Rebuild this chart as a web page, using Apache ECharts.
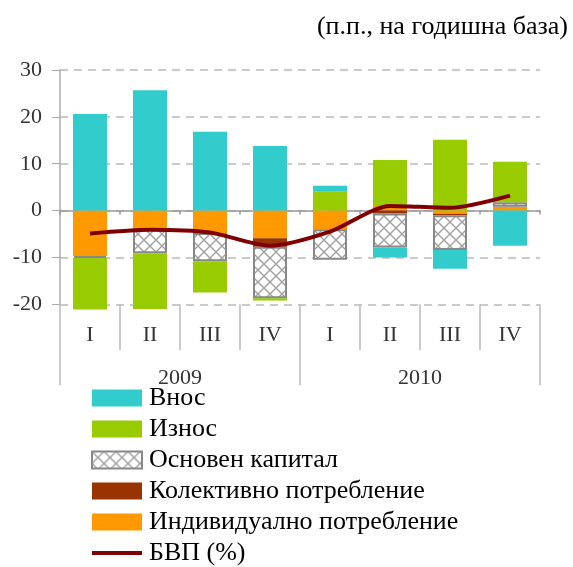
<!DOCTYPE html>
<html>
<head>
<meta charset="utf-8">
<script src="https://cdn.jsdelivr.net/npm/echarts@6/dist/echarts.min.js"></script>
<style>
    html, body { margin: 0; padding: 0; background: #fff; }
    #chart { width: 573px; height: 567px; }
</style>
</head>
<body>
<div id="chart"></div>
<script>
// категории
const quarters = ['I', 'II', 'III', 'IV', 'I', 'II', 'III', 'IV'];
const years = ['2009', '2010'];

// приноси (п.п.)
const individualCons = [-9.7, -3.6, -4.8, -5.9, -4.0, 1.2, -0.7, 0.8];
const collectiveCons = [0, 0, 0, -1.8, 0, -0.6, -0.3, 0];
const fixedCapital = [-0.4, -5.5, -6.0, -11.0, -6.5, -7.3, -7.4, 1.0];
const exportsData = [-11.0, -11.9, -6.7, -0.5, 4.0, 9.6, 15.1, 8.6];
const importsData = [20.6, 25.7, 16.8, 13.8, 1.3, -2.1, -4.0, -7.5];
const gdp = [-4.9, -4.1, -4.7, -7.5, -4.5, 1.0, 0.6, 3.2];

const FONT = 'Liberation Serif';

// шарка за основния капитал
const hatch = document.createElement('canvas');
hatch.width = 12;
hatch.height = 12;
const hctx = hatch.getContext('2d');
hctx.fillStyle = '#fff';
hctx.fillRect(0, 0, 12, 12);
hctx.strokeStyle = '#a0a0a0';
hctx.lineWidth = 1.4;
hctx.beginPath();
hctx.moveTo(0, 0); hctx.lineTo(12, 12);
hctx.moveTo(12, 0); hctx.lineTo(0, 12);
hctx.stroke();

const chart = echarts.init(document.getElementById('chart'));

const barBase = {
    type: 'bar',
    stack: 'total',
    barWidth: 34,
    clip: false,
    xAxisIndex: 0,
    yAxisIndex: 0
};

const option = {
    animation: false,
    title: {
        text: '(п.п., на годишна база)',
        right: 0,
        top: 9,
        textStyle: { fontFamily: FONT, fontSize: 26, fontWeight: 'normal', color: '#000' }
    },
    grid: { left: 60, right: 33, top: 70, bottom: 262.7 },
    legend: {
        orient: 'vertical',
        left: 85,
        top: 380,
        height: 200,
        itemWidth: 50,
        itemHeight: 17,
        itemGap: 5,
        data: [
            { name: 'Внос', icon: 'rect' },
            { name: 'Износ', icon: 'rect' },
            { name: 'Основен капитал', icon: 'rect' },
            { name: 'Колективно потребление', icon: 'rect' },
            { name: 'Индивидуално потребление', icon: 'rect' },
            { name: 'БВП (%)', itemStyle: { opacity: 0 }, lineStyle: { width: 4, color: '#800000' } }
        ],
        textStyle: { fontFamily: FONT, fontSize: 26, color: '#000', lineHeight: 26, padding: [0, 0, 0, 2] }
    },
    xAxis: [
        {
            // ос по нулата
            type: 'category',
            data: quarters,
            axisLine: { onZero: true, lineStyle: { color: '#999', width: 1.5 } },
            axisTick: { show: true, length: 4, lineStyle: { color: '#999', width: 1.5 } },
            axisLabel: { show: false }
        },
        {
            type: 'category',
            data: quarters,
            position: 'bottom',
            axisLine: { show: false, onZero: false },
            axisTick: { show: true, length: 46, lineStyle: { color: '#bbb', width: 1.5 } },
            axisLabel: { margin: 20, fontFamily: FONT, fontSize: 22, color: '#333' }
        },
        {
            type: 'category',
            data: years,
            position: 'bottom',
            axisLine: { show: false, onZero: false },
            axisTick: { show: true, length: 81, lineStyle: { color: '#bbb', width: 1.5 } },
            axisLabel: { margin: 63, fontFamily: FONT, fontSize: 22, color: '#333' }
        }
    ],
    yAxis: {
        type: 'value',
        min: -20,
        max: 30,
        interval: 10,
        axisLine: { show: true, lineStyle: { color: '#aaa', width: 1.5 } },
        axisTick: { show: true, length: 8, lineStyle: { color: '#aaa' } },
        splitLine: { lineStyle: { color: '#bbb', type: [8, 6], width: 1.5 } },
        axisLabel: { margin: 18, fontFamily: FONT, fontSize: 22, color: '#333' }
    },
    series: [
        Object.assign({}, barBase, {
            name: 'Индивидуално потребление',
            data: individualCons,
            itemStyle: { color: '#ff9900' }
        }),
        Object.assign({}, barBase, {
            name: 'Колективно потребление',
            data: collectiveCons,
            itemStyle: { color: '#993300' }
        }),
        Object.assign({}, barBase, {
            name: 'Основен капитал',
            data: fixedCapital,
            itemStyle: {
                color: { image: hatch, repeat: 'repeat' },
                borderColor: '#888',
                borderWidth: 2
            }
        }),
        Object.assign({}, barBase, {
            name: 'Износ',
            data: exportsData,
            itemStyle: { color: '#99cc00' }
        }),
        Object.assign({}, barBase, {
            name: 'Внос',
            data: importsData,
            itemStyle: { color: '#33cccc' }
        }),
        {
            name: 'БВП (%)',
            type: 'line',
            data: gdp,
            smooth: 0.25,
            symbol: 'none',
            clip: false,
            z: 5,
            lineStyle: { color: '#800000', width: 4 },
            itemStyle: { color: '#800000' }
        }
    ]
};

chart.setOption(option);
</script>
</body>
</html>
